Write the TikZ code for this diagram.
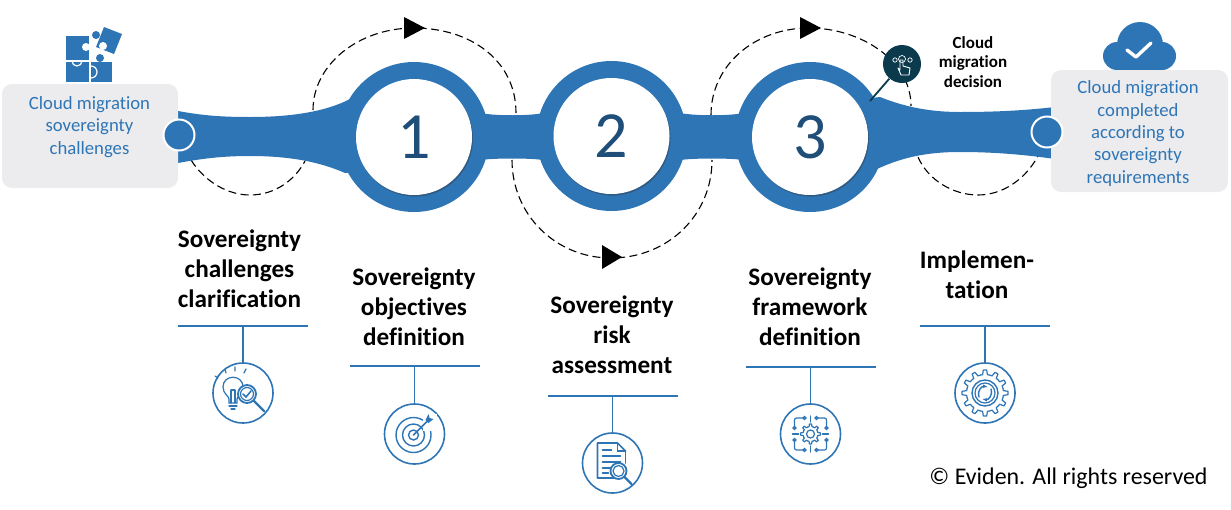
\documentclass[tikz,border=0pt]{standalone}
\usepackage{fontspec}
\setmainfont[Ligatures=NoCommon]{Carlito}
\usetikzlibrary{shadows,arrows.meta}
\definecolor{bandcol}{HTML}{2E75B6}
\definecolor{numcol}{HTML}{1F4E79}
\definecolor{boxcol}{HTML}{ECECEE}
\definecolor{darkcol}{HTML}{0B3A4C}
\tikzstyle{ring}=[circle, fill=bandcol, inner sep=0pt, minimum size=75pt]
\tikzstyle{hole}=[circle, fill=white, inner sep=0pt, minimum size=58pt, text=numcol, font=\fontsize{33}{33}\selectfont, drop shadow={shadow xshift=0.5pt, shadow yshift=-0.8pt, fill=black!80, opacity=0.4}]
\tikzstyle{endbox}=[fill=boxcol, rounded corners=5pt, inner sep=0pt]
\tikzstyle{boxtext}=[text=bandcol, align=center, font=\fontsize{9.35}{11.2}\selectfont]
\tikzstyle{enddot}=[circle, fill=bandcol, draw=white, line width=1pt, inner sep=0pt, minimum size=15.5pt]
\tikzstyle{steptitle}=[align=center, font=\bfseries\fontsize{12.6}{15}\selectfont]
\tikzstyle{rule}=[bandcol, line width=0.75pt]
\tikzstyle{iconring}=[circle, draw=bandcol, line width=0.8pt, fill=white, inner sep=0pt, minimum size=30pt]
\tikzstyle{route}=[black, line width=0.55pt, dash pattern=on 4pt off 2.2pt]
\tikzstyle{iconline}=[bandcol, line width=0.6pt, line cap=round]
\newcommand{\gearline}[3]{% outer radius, inner radius, teeth
	\pgfmathsetmacro{\stepa}{360/#3}
	\foreach \i in {1,...,#3}{
		\pgfmathsetmacro{\a}{\i*\stepa}
		\draw[iconline,line join=round] (\a-0.5*\stepa:#2) -- (\a-0.25*\stepa:#2) -- (\a-0.14*\stepa:#1) -- (\a+0.14*\stepa:#1) -- (\a+0.25*\stepa:#2) -- (\a+0.5*\stepa:#2);
	}
}
\begin{document}
\begin{tikzpicture}[x=0.5pt,y=-0.5pt]
	\useasboundingbox (0,0) rectangle (1231,509);

	% Dashed route
	\coordinate (p0a) at (191,160);
	\coordinate (p0b) at (250,195);
	\coordinate (p0c) at (305,161);
	\coordinate (p1a) at (313,110);
	\coordinate (p1b) at (414,28);
	\coordinate (p1c) at (516,113);
	\coordinate (p2a) at (512,160);
	\coordinate (p2b) at (611,258);
	\coordinate (p2c) at (712,160);
	\coordinate (p3a) at (711,115);
	\coordinate (p3b) at (809,28);
	\coordinate (p3c) at (911,106);
	\coordinate (p4a) at (918,157);
	\coordinate (p4b) at (978,195);
	\coordinate (p4c) at (1038,156);
	\draw[route] (p0a) .. controls (205,182) and (228,195) .. (p0b) .. controls (275,195) and (295,180) .. (p0c);
	\draw[route] (p1a) .. controls (313,65) and (358,28) .. (p1b) .. controls (470,28) and (516,60) .. (p1c);
	\draw[route] (p2a) .. controls (512,215) and (556,258) .. (p2b) .. controls (668,258) and (712,215) .. (p2c);
	\draw[route] (p3a) .. controls (711,65) and (755,28) .. (p3b) .. controls (860,28) and (911,60) .. (p3c);
	\draw[route] (p4a) .. controls (928,180) and (953,195) .. (p4b) .. controls (1002,195) and (1025,180) .. (p4c);
	\fill[black] (404,17) -- (425,28) -- (404,39) -- cycle;
	\fill[black] (602,245) -- (622,257) -- (602,269) -- cycle;
	\fill[black] (800,17) -- (821,28) -- (800,39) -- cycle;

	% Band
	\fill[bandcol] (170,111) -- (178,111) .. controls (205,116) and (225,117) .. (250,117)
		.. controls (290,117) and (325,112) .. (350,99) -- (480,113)
		.. controls (495,116) and (530,116) .. (543,113) -- (680,113)
		.. controls (695,116) and (730,116) .. (743,113) -- (880,97)
		.. controls (900,105) and (925,112) .. (960,112)
		.. controls (990,112) and (1020,111) .. (1055,107) -- (1055,159)
		.. controls (1020,154) and (990,152) .. (960,152)
		.. controls (925,152) and (900,158) .. (875,170) -- (743,160)
		.. controls (730,158) and (695,158) .. (680,160) -- (543,160)
		.. controls (530,158) and (495,158) .. (480,160) -- (345,173)
		.. controls (320,162) and (290,156) .. (250,156)
		.. controls (225,156) and (205,158) .. (178,163) -- (170,163) -- cycle;
	\node[ring] (ring1) at (414,137) {};
	\node[ring] (ring2) at (611.5,136) {};
	\node[ring] (ring3) at (810,137) {};
	\node[hole] (num1) at (ring1) {1};
	\node[hole] (num2) at (ring2) {2};
	\node[hole] (num3) at (ring3) {3};

	% End boxes
	\node[endbox, minimum width=88pt, minimum height=52pt] (startbox) at (90,136) {};
	\node[endbox, minimum width=88.5pt, minimum height=61pt] (finishbox) at (1139.5,131) {};
	\node[boxtext] (starttext) at (89.5,127) {Cloud migration\\sovereignty\\challenges};
	\node[boxtext] (finishtext) at (1138,133.5) {Cloud migration\\completed\\according to\\sovereignty\\requirements};
	\node[enddot] (startdot) at (179,135) {};
	\node[enddot] (finishdot) at (1047,132) {};

	% Puzzle
	\fill[bandcol] (66,36) rectangle (89,60);
	\fill[bandcol] (66,62) rectangle (89,82);
	\fill[bandcol] (91,62) rectangle (112,82);
	\fill[bandcol] (100,58) circle (4);
	\fill[bandcol] (104,27) -- (122,34) -- (114,54) -- (96,47) -- cycle;
	\fill[bandcol] (96,35) circle (4);
	\fill[white] (86,47) circle (4);
	\fill[white] (103,46) circle (4);
	\draw[white, line width=0.6pt] (72,61) arc (180:0:5);
	\draw[white, line width=0.6pt] (91,66) arc (-90:90:6);

	% Cloud
	\fill[bandcol] (1140,45) circle (23);
	\fill[bandcol] (1117,56) circle (14);
	\fill[bandcol] (1162,56) circle (14);
	\fill[bandcol] (1117,55) rectangle (1162,70);
	\draw[white, line width=1.7pt, line cap=round, line join=round] (1127,50) -- (1136,57) -- (1151,43);

	% Decision
	\node[circle, fill=darkcol, inner sep=0pt, minimum size=19pt] (decide) at (902,64) {};
	\coordinate (decideend) at (870,101);
	\draw[darkcol, line width=0.9pt] (decide) -- (decideend);
	\node[align=center, font=\bfseries\fontsize{8.5}{9.9}\selectfont] (decidetext) at (973,62) {Cloud\\migration\\decision};
	\draw[white, line width=0.35pt] (895,60) circle (2.2) (902,59) circle (3.5) (910,60) circle (2.2);
	\draw[white, line width=0.45pt, line join=round] (900,60) -- (900,70) -- (898,68) -- (901,75) -- (909,75) -- (910,68) -- (903,66) -- (903,60) -- cycle;

	% Titles
	\node[steptitle] (title1) at (239.5,269) {Sovereignty\\challenges\\clarification};
	\node[steptitle] (title2) at (414,307) {Sovereignty\\objectives\\definition};
	\node[steptitle] (title3) at (612,335) {Sovereignty\\risk\\assessment};
	\node[steptitle] (title4) at (810,307) {Sovereignty\\framework\\definition};
	\node[steptitle] (title5) at (977,275) {Implemen-\\tation};

	% Rules and icon rings
	\foreach \nm/\x/\y/\yy/\wl in {1/243/326/393/65,2/414.5/366/434/65,3/612.5/396/463/65,4/810.5/367/434/65,5/985/326/393/65}{
		\node[iconring] (icon\nm) at (\x,\yy) {};
		\coordinate (top\nm) at (\x,\y);
		\coordinate (left\nm) at (\x-\wl,\y);
		\coordinate (right\nm) at (\x+\wl,\y);
		\draw[rule] (left\nm) -- (right\nm);
		\draw[rule] (top\nm) -- (icon\nm);
	}

	% Icon 1
	\begin{scope}[shift={(icon1)}]
		\draw[iconline] (-6,10) -- (-6,6) .. controls (-6,3) and (0,1) .. (0,-6) .. controls (0,-19) and (-20,-19) .. (-20,-6) .. controls (-20,1) and (-14,3) .. (-14,6) -- (-14,10) -- cycle;
		\draw[iconline] (-14,13) -- (-6,13) (-12,16) -- (-8,16) (-12,10) -- (-12,-3) (-8,10) -- (-8,-3) (-12,-3) -- (-8,-3);
		\draw[iconline] (-28,-17) -- (-25,-15) (-18,-24) -- (-17,-20) (-8,-26) -- (-8,-22) (3,-24) -- (1,-20);
		\draw[iconline, fill=white, line width=0.9pt] (4,1) circle (9);
		\draw[iconline] (4,1) circle (6.5);
		\draw[iconline, line width=0.8pt] (0,1) -- (3,4) -- (8,-2);
		\draw[iconline, line width=1.2pt] (11,8) -- (21,18);
	\end{scope}

	% Icon 2
	\begin{scope}[shift={(icon2)}]
		\draw[iconline, line width=0.7pt] (-1,1) circle (17.5);
		\draw[iconline, line width=0.7pt] (-1,1) circle (11);
		\draw[iconline, line width=0.7pt] (-1,1) circle (5);
		\fill[white] (8,-20) rectangle (22,-3);
		\draw[iconline, line width=0.8pt] (-1,1) -- (13,-13);
		\fill[bandcol] (11,-14) -- (14,-20) -- (15,-16) -- (19,-15) -- (14,-11) -- cycle;
	\end{scope}

	% Icon 3
	\begin{scope}[shift={(icon3)}]
		\draw[iconline, line width=0.8pt, line join=round] (13,-12) -- (5,-20) -- (-15,-20) -- (-15,15) -- (1,15);
		\draw[iconline, line width=0.8pt] (13,-12) -- (13,0) (5,-20) -- (5,-12) -- (13,-12);
		\draw[iconline, line width=0.8pt] (-10,-13) -- (-1,-13) (-10,-7) -- (8,-7) (-10,-1) -- (8,-1) (-10,5) -- (-1,5) (-10,10) -- (-4,10);
		\draw[iconline, fill=white, line width=0.9pt] (6,8) circle (8);
		\draw[iconline] (6,8) circle (5.5);
		\draw[iconline, line width=1.2pt] (12,14) -- (19,21);
	\end{scope}

	% Icon 4
	\begin{scope}[shift={(icon4)}]
		\gearline{10}{7.5}{8}
		\draw[iconline] (0,0) circle (4);
		\draw[iconline] (-18,0) -- (-12,0) (12,0) -- (18,0) (0,-18) -- (0,-12) (0,12) -- (0,18);
		\draw[iconline, rounded corners=1pt] (-16,-6) -- (-16,-16) -- (-6,-16) (16,-6) -- (16,-16) -- (6,-16) (-16,6) -- (-16,16) -- (-6,16) (16,6) -- (16,16) -- (6,16);
		\draw[iconline] (-6,-16) circle (1.5) (6,-16) circle (1.5) (-16,-6) circle (1.5) (16,-6) circle (1.5) (-16,6) circle (1.5) (16,6) circle (1.5) (-6,16) circle (1.5) (6,16) circle (1.5);
	\end{scope}

	% Icon 5
	\begin{scope}[shift={(icon5)}]
		\gearline{23}{18.5}{12}
		\draw[iconline, line width=0.7pt] (0,0) circle (13);
		\draw[iconline] (0,0) circle (10);
		\draw[iconline, line width=0.7pt, -{Latex[length=2.5pt]}] (-6,4) .. controls (-8,-3) and (-3,-7) .. (3,-6);
		\draw[iconline, line width=0.7pt, -{Latex[length=2.5pt]}] (6,-4) .. controls (8,3) and (3,7) .. (-3,6);
	\end{scope}

	\node[font=\fontsize{11.95}{14}\selectfont] (copyright) at (1068.5,478) {© Eviden. All rights reserved};
\end{tikzpicture}
\end{document}
